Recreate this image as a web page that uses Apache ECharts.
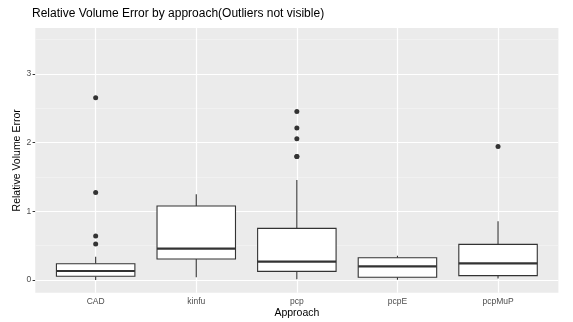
<!DOCTYPE html>
<html>
<head>
<meta charset="utf-8">
<script src="https://cdn.jsdelivr.net/npm/echarts@6/dist/echarts.min.js"></script>
<style>
  html, body { margin: 0; padding: 0; background: #fff; }
  #chart { width: 573px; height: 322px; }
</style>
</head>
<body>
<div id="chart"></div>
<script>
// Approaches on the x axis (placed at positions 1..5)
const categories = ['CAD', 'kinfu', 'pcp', 'pcpE', 'pcpMuP'];

// Box statistics per approach
const whiskerLow  = [0.00, 0.04, 0.01, 0.005, 0.02];
const q1          = [0.054, 0.306, 0.126, 0.039, 0.063];
const median      = [0.131, 0.456, 0.267, 0.199, 0.243];
const q3          = [0.237, 1.077, 0.752, 0.325, 0.519];
const whiskerHigh = [0.34, 1.247, 1.456, 0.354, 0.854];

// Points beyond the whiskers
const outliersCAD    = [2.654, 1.276, 0.64, 0.524];
const outliersKinfu  = [];
const outliersPcp    = [2.455, 2.212, 2.057, 1.80, 1.80];
const outliersPcpE   = [];
const outliersPcpMuP = [1.946];

const yTicks = [0, 1, 2, 3];
const yMinor = [0.5, 1.5, 2.5, 3.5];

const xPos = categories.map((_, i) => i + 1);
const boxData = categories.map((_, i) =>
  [xPos[i], whiskerLow[i], q1[i], median[i], q3[i], whiskerHigh[i]]);

const outlierData = [];
[outliersCAD, outliersKinfu, outliersPcp, outliersPcpE, outliersPcpMuP].forEach((list, i) => {
  list.forEach(v => outlierData.push([xPos[i], v]));
});

const BOX_WIDTH = 0.78; // in x-axis units

function renderBox(params, api) {
  const x = api.value(0);
  const lo = api.coord([x, api.value(1)]);
  const b1 = api.coord([x, api.value(2)]);
  const md = api.coord([x, api.value(3)]);
  const b3 = api.coord([x, api.value(4)]);
  const hi = api.coord([x, api.value(5)]);
  const w = api.size([BOX_WIDTH, 0])[0];
  const stroke = '#333333';
  return {
    type: 'group',
    children: [
      { type: 'line', shape: { x1: lo[0], y1: lo[1], x2: b1[0], y2: b1[1] },
        style: { stroke: stroke, lineWidth: 1.1 } },
      { type: 'line', shape: { x1: b3[0], y1: b3[1], x2: hi[0], y2: hi[1] },
        style: { stroke: stroke, lineWidth: 1.1 } },
      { type: 'rect', shape: { x: b3[0] - w / 2, y: b3[1], width: w, height: b1[1] - b3[1] },
        style: { fill: '#ffffff', stroke: stroke, lineWidth: 1.1 } },
      { type: 'line', shape: { x1: md[0] - w / 2, y1: md[1], x2: md[0] + w / 2, y2: md[1] },
        style: { stroke: stroke, lineWidth: 2.2 } }
    ]
  };
}

const labelColor = '#4d4d4d';
const chart = echarts.init(document.getElementById('chart'), null, { renderer: 'canvas' });

chart.setOption({
  animation: false,
  backgroundColor: '#ffffff',
  title: {
    text: 'Relative Volume Error by approach(Outliers not visible)',
    left: 27, top: 3,
    textStyle: { fontFamily: 'Liberation Sans', fontSize: 12, fontWeight: 'normal', color: '#000' }
  },
  grid: {
    left: 35.3, right: 14.6, top: 28, bottom: 29.3,
    outerBoundsMode: 'none', containLabel: false,
    show: true, backgroundColor: '#ebebeb', borderWidth: 0
  },
  xAxis: {
    type: 'value', min: 0.4, max: 5.6,
    name: 'Approach', nameLocation: 'middle', nameGap: 15, nameMoveOverlap: false,
    nameTextStyle: { fontFamily: 'Liberation Sans', fontSize: 10.5, color: '#000' },
    axisLine: { show: false },
    axisTick: { show: true, customValues: xPos, length: 2.7, lineStyle: { color: '#333', width: 1 } },
    axisLabel: {
      customValues: xPos, margin: 4,
      formatter: v => categories[Math.round(v) - 1] || '',
      fontFamily: 'Liberation Sans', fontSize: 8.5, color: labelColor
    },
    splitLine: { show: false }
  },
  yAxis: {
    type: 'value', min: -0.185, max: 3.67,
    name: 'Relative Volume Error', nameLocation: 'middle', nameRotate: 90, nameGap: 13,
    nameMoveOverlap: false,
    nameTextStyle: { fontFamily: 'Liberation Sans', fontSize: 10.5, color: '#000' },
    axisLine: { show: false },
    axisTick: { show: true, customValues: yTicks, length: 2.7, lineStyle: { color: '#333', width: 1 } },
    axisLabel: {
      customValues: yTicks, margin: 4,
      fontFamily: 'Liberation Sans', fontSize: 8.5, color: labelColor
    },
    splitLine: { show: false }
  },
  series: [
    {
      // panel grid lines
      type: 'scatter', data: [], z: 1, silent: true,
      markLine: {
        z: 1, silent: true, symbol: 'none', animation: false,
        label: { show: false },
        data: [
          ...yMinor.map(v => ({ yAxis: v, lineStyle: { color: '#f4f4f4', width: 0.7, type: 'solid' } })),
          ...yTicks.map(v => ({ yAxis: v, lineStyle: { color: '#ffffff', width: 1.2, type: 'solid' } })),
          ...xPos.map(v => ({ xAxis: v, lineStyle: { color: '#ffffff', width: 1.2, type: 'solid' } }))
        ]
      }
    },
    {
      type: 'custom', z: 3, data: boxData, renderItem: renderBox,
      encode: { x: 0, y: [1, 2, 3, 4, 5] }
    },
    {
      type: 'scatter', z: 4, data: outlierData, symbolSize: 5,
      itemStyle: { color: '#333333', opacity: 1 }
    }
  ]
});
</script>
</body>
</html>
